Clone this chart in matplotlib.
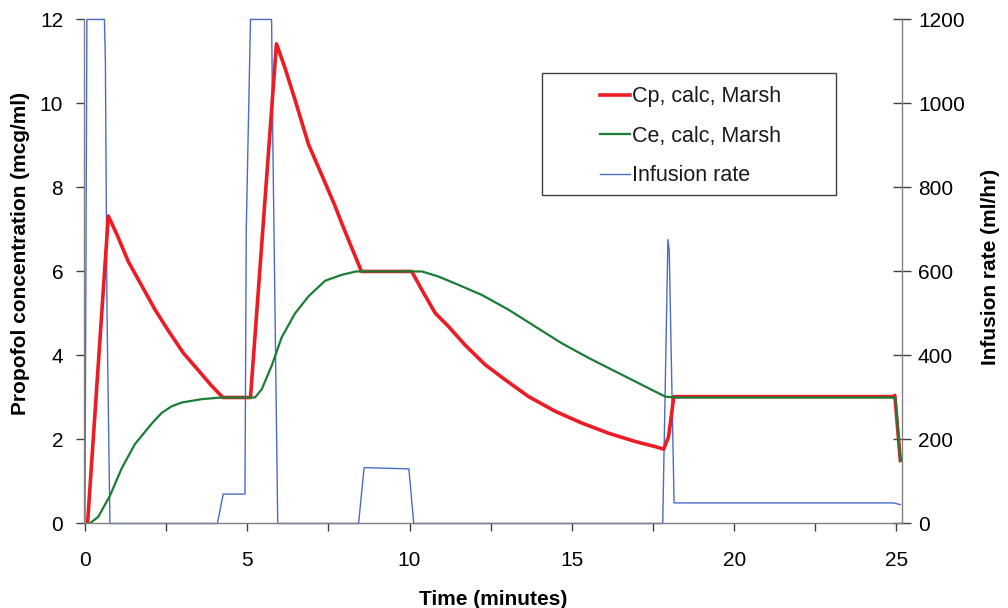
import matplotlib
matplotlib.use('Agg')
import matplotlib.pyplot as plt
from matplotlib.patches import Rectangle
from matplotlib.ticker import MultipleLocator

# Cp, calc, Marsh (mcg/ml)
t_cp = [0.08, 0.72, 0.98, 1.34, 1.75, 2.16, 2.57, 3.03, 3.49, 3.9, 4.25, 5.1,
        5.9, 6.17, 6.47, 6.89, 7.3, 7.71, 7.91, 8.2, 8.52, 10.07, 10.38, 10.79,
        11.2, 11.71, 12.33, 12.95, 13.67, 14.49, 15.31, 16.13, 16.96, 17.57,
        17.83, 17.98, 18.09, 18.14, 24.9, 24.95, 25.12]
cp = [0, 7.32, 6.89, 6.23, 5.66, 5.09, 4.59, 4.06, 3.65, 3.28, 3.0, 3.0,
      11.42, 10.83, 10.09, 9.02, 8.29, 7.55, 7.15, 6.6, 6.0, 6.0, 5.56, 5.01,
      4.69, 4.25, 3.78, 3.42, 3.02, 2.67, 2.39, 2.15, 1.95, 1.83,
      1.77, 2.07, 2.71, 3.02, 3.02, 3.05, 1.5]

# Ce, calc, Marsh (mcg/ml)
t_ce = [0, 0.15, 0.41, 0.77, 1.13, 1.54, 2.06, 2.36, 2.67, 2.98, 3.6, 4.21,
        5.24, 5.45, 5.76, 6.06, 6.47, 6.89, 7.4, 7.91, 8.35, 10.38, 10.89,
        11.51, 12.23, 13.05, 13.87, 14.69, 15.52, 16.34, 17.16, 17.88, 18.15,
        24.9, 24.97, 25.12]
ce = [0, 0, 0.16, 0.66, 1.31, 1.89, 2.38, 2.63, 2.79, 2.88, 2.96, 3.0,
      3.0, 3.2, 3.77, 4.43, 5.0, 5.41, 5.78, 5.92, 6.0, 6.0, 5.88,
      5.68, 5.44, 5.09, 4.69, 4.29, 3.94, 3.62, 3.3, 3.02, 3.0,
      3.0, 2.95, 1.5]

# Infusion rate (ml/hr)
t_inf = [0, 0.06, 0.6, 0.63, 0.68, 0.77, 4.08, 4.26, 4.93, 4.97, 5.1, 5.75,
         5.79, 5.94, 8.43, 8.6, 9.98, 10.13, 17.8, 17.96, 18.0, 18.15, 24.9, 25.12]
rate = [0, 1200, 1200, 1100, 500, 0, 0, 70, 70, 700, 1200, 1200,
        900, 0, 0, 133, 130, 0, 0, 676, 650, 49, 49, 45]

RED = '#ed1c24'
GREEN = '#1b7d35'
BLUE = '#4a6cc6'
GREY = '#808080'
TICK = '#404040'

plt.rcParams['font.family'] = ['Liberation Sans', 'DejaVu Sans']
plt.rcParams['text.color'] = '#1a1a1a'

fig = plt.figure(figsize=(10.08, 6.08), dpi=100)
ax = fig.add_axes([0.0833, 0.139, 0.8115, 0.829])
ax2 = ax.twinx()

ax2.plot(t_inf, rate, color=BLUE, lw=1.0, clip_on=False, label='Infusion rate')
l1, = ax.plot(t_cp, cp, color=RED, lw=2.6, label='Cp, calc, Marsh')
l2, = ax.plot(t_ce, ce, color=GREEN, lw=1.6, label='Ce, calc, Marsh')

# concentration lines drawn above infusion rate
ax.set_zorder(ax2.get_zorder() + 1)
ax.patch.set_visible(False)

ax.set_xlim(-0.03, 25.17)
ax.set_ylim(0, 12)
ax2.set_ylim(0, 1200)

ax.xaxis.set_major_locator(MultipleLocator(5))
ax.xaxis.set_minor_locator(MultipleLocator(2.5))
ax.yaxis.set_major_locator(MultipleLocator(2))
ax2.yaxis.set_major_locator(MultipleLocator(200))

for a in (ax, ax2):
    a.spines['top'].set_visible(False)
    for s in ('left', 'right', 'bottom'):
        a.spines[s].set_color(GREY)
        a.spines[s].set_linewidth(1.0)
ax.spines['right'].set_visible(False)
ax2.spines['left'].set_visible(False)
ax2.spines['bottom'].set_visible(False)

ax.tick_params(axis='x', which='both', direction='out', length=6, width=1,
               color=TICK, labelsize=15, pad=14)
ax.tick_params(axis='y', direction='out', length=6, width=1,
               color=TICK, labelsize=15, pad=9)
ax2.tick_params(axis='y', direction='inout', length=13, width=1,
                color=TICK, labelsize=15, pad=5)

ax.set_xlabel('Time (minutes)', fontsize=15, fontweight='bold', labelpad=14)
ax.set_ylabel('Propofol concentration (mcg/ml)', fontsize=15, fontweight='bold')
ax2.set_ylabel('Infusion rate (ml/hr)', fontsize=15, fontweight='bold')
ax.yaxis.set_label_coords(-0.066, 0.536)
ax2.yaxis.set_label_coords(1.097, 0.509)

# legend box
box = Rectangle((0.56, 0.652), 0.359, 0.242, transform=ax.transAxes,
                facecolor='white', edgecolor=TICK, lw=1.0, zorder=5)
ax.add_patch(box)
h3 = plt.Line2D([], [], color=BLUE, lw=1.0)
leg = ax.legend([l1, l2, h3], ['Cp, calc, Marsh', 'Ce, calc, Marsh', 'Infusion rate'],
                loc='upper left', bbox_to_anchor=(0.631, 0.867), frameon=False,
                fontsize=15.5, handlelength=1.4, handletextpad=0.1, labelspacing=0.85,
                borderpad=0, borderaxespad=0)
leg.set_zorder(6)

fig.savefig('out.png', dpi=100)
